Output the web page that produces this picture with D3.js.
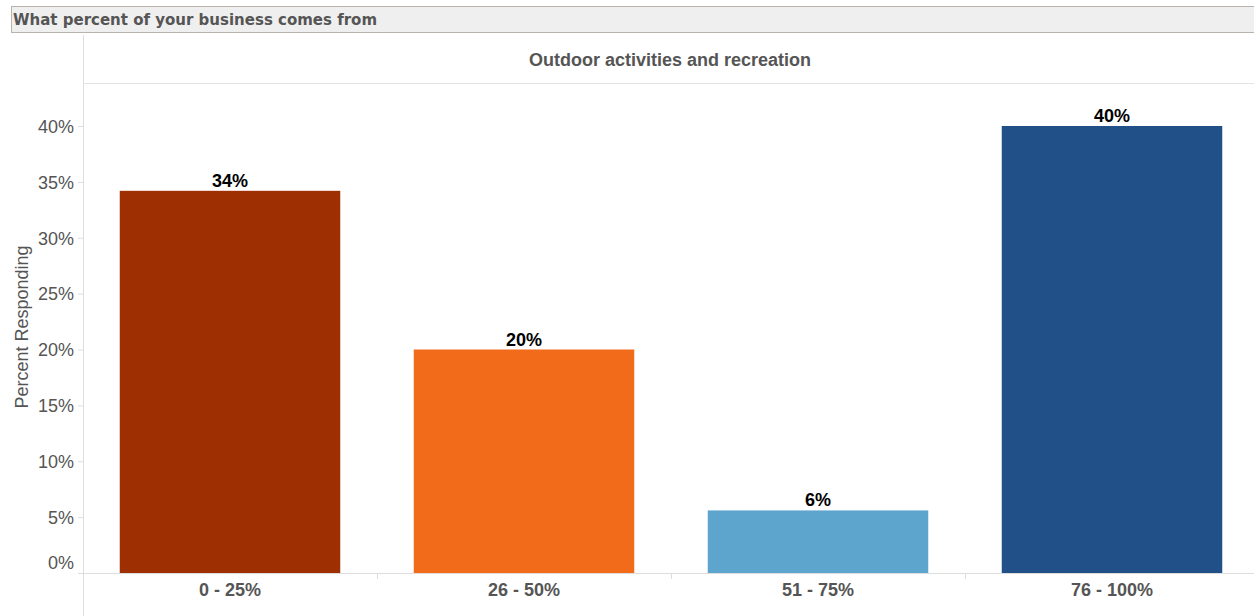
<!DOCTYPE html>
<html><head><meta charset="utf-8">
<script src="https://cdn.jsdelivr.net/npm/d3@7"></script>
<style>body{margin:0;background:#fff;}svg{display:block;}</style>
</head><body>
<svg id="chart" width="1254" height="616"></svg>
<script>
const categories = ["0 - 25%", "26 - 50%", "51 - 75%", "76 - 100%"];
const values = [34.2, 20.0, 5.6, 40.0];
const valueLabels = ["34%", "20%", "6%", "40%"];
const colors = ["#9e2f02", "#f26b1a", "#5ea5cd", "#215088"];
const yTicks = [0, 5, 10, 15, 20, 25, 30, 35, 40];
const title = "What percent of your business comes from";
const header = "Outdoor activities and recreation";
const yTitle = "Percent Responding";

const svg = d3.select("#chart");
const W = 1254, H = 616;
const left = 83, baseY = 573;
const FONT = "Liberation Sans, Arial, sans-serif";

// title bar
svg.append("rect").attr("x", 11).attr("y", 6).attr("width", W - 11).attr("height", 27)
  .attr("fill", "#efefef");
svg.append("line").attr("x1", 11).attr("x2", W).attr("y1", 6.5).attr("y2", 6.5).attr("stroke", "#b9b4aa");
svg.append("line").attr("x1", 11).attr("x2", W).attr("y1", 32.5).attr("y2", 32.5).attr("stroke", "#b9b4aa");
svg.append("line").attr("x1", 11.5).attr("x2", 11.5).attr("y1", 6).attr("y2", 33).attr("stroke", "#b9b4aa");
svg.append("text").attr("x", 13).attr("y", 25).text(title)
  .attr("font-family", "DejaVu Sans, Verdana, sans-serif").attr("font-weight", "bold")
  .attr("font-size", 15).attr("fill", "#555");

// frame lines
svg.append("line").attr("x1", left + 0.5).attr("x2", left + 0.5).attr("y1", 35).attr("y2", H).attr("stroke", "#ddd");
svg.append("line").attr("x1", left).attr("x2", W).attr("y1", 83.5).attr("y2", 83.5).attr("stroke", "#e3e3e3");

svg.append("text").attr("x", 670).attr("y", 66).attr("text-anchor", "middle").text(header)
  .attr("font-family", FONT).attr("font-weight", "bold")
  .attr("font-size", 18).attr("fill", "#555");

const x = d3.scaleBand().domain(categories).range([left, left + 4 * 294]).paddingInner(0.25).paddingOuter(0.125);
const y = d3.scaleLinear().domain([0, 40]).range([baseY, 126]);

// y axis
const yAxis = d3.axisLeft(y).tickValues(yTicks).tickFormat(d => d + "%").tickSize(5).tickPadding(4);
const gy = svg.append("g").attr("transform", `translate(${left},0)`).call(yAxis);
gy.select(".domain").remove();
gy.selectAll(".tick line").attr("stroke", "#ddd");
gy.selectAll(".tick text").attr("font-family", FONT)
  .attr("font-size", 18).attr("fill", "#555").attr("dy", "0.35em");
gy.selectAll(".tick text").filter(d => d === 0).attr("dy", "-0.25em");

svg.append("text").attr("transform", `translate(28,327) rotate(-90)`).attr("text-anchor", "middle")
  .text(yTitle).attr("font-family", FONT).attr("font-size", 18).attr("fill", "#555");

// bars
svg.append("g").selectAll("rect").data(categories).join("rect")
  .attr("x", d => x(d)).attr("width", x.bandwidth())
  .attr("y", (d, i) => y(values[i])).attr("height", (d, i) => baseY - y(values[i]))
  .attr("fill", (d, i) => colors[i]);

svg.append("g").selectAll("text").data(categories).join("text")
  .attr("x", d => x(d) + x.bandwidth() / 2).attr("y", (d, i) => y(values[i]) - 4)
  .attr("text-anchor", "middle").text((d, i) => valueLabels[i])
  .attr("font-family", FONT).attr("font-weight", "bold")
  .attr("font-size", 18).attr("fill", "#000");

// x axis
svg.append("line").attr("x1", left).attr("x2", W).attr("y1", baseY + 0.5).attr("y2", baseY + 0.5).attr("stroke", "#ddd");
const step = x.step();
svg.append("g").selectAll("line").data(categories.slice(1)).join("line")
  .attr("x1", d => x(d) - x.paddingInner() * step / 2 + 0.5).attr("x2", d => x(d) - x.paddingInner() * step / 2 + 0.5)
  .attr("y1", baseY + 1).attr("y2", baseY + 6).attr("stroke", "#ddd");
svg.append("g").selectAll("text").data(categories).join("text")
  .attr("x", d => x(d) + x.bandwidth() / 2).attr("y", 596)
  .attr("text-anchor", "middle").text(d => d)
  .attr("font-family", FONT).attr("font-weight", "bold")
  .attr("font-size", 18).attr("fill", "#555");
</script>
</body></html>
